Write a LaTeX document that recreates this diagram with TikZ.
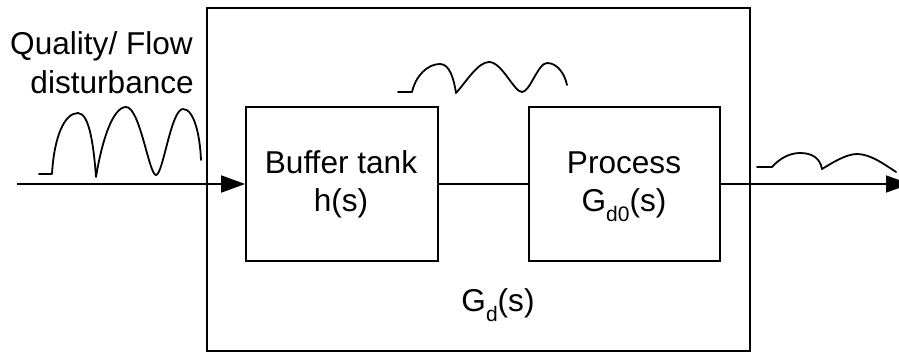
\documentclass[tikz,border=0pt]{standalone}
\usepackage{fontspec}
\setmainfont{Liberation Sans}
\usetikzlibrary{arrows.meta}
\begin{document}
\begin{tikzpicture}[x=1pt,y=-1pt,
  every node/.style={font=\fontsize{31.6}{38}\selectfont},
  blockbox/.style={draw, line width=1.8pt, inner sep=0pt},
  txt/.style={inner sep=0pt, anchor=base},
  conn/.style={line width=1.8pt},
  wave/.style={line width=1.8pt, line join=round, line cap=round},
  arr/.style={-{Triangle[length=24pt,width=17pt]}}]
\useasboundingbox (0,0) rectangle (899,353);
% outer box
\node[blockbox, minimum width=543pt, minimum height=343pt] (outer) at (478.5,179.5) {};
% inner boxes
\node[blockbox, minimum width=192pt, minimum height=154pt] (buffer) at (342,184) {};
\node[blockbox, minimum width=191pt, minimum height=154pt] (process) at (624.5,184) {};
% texts
\node[txt] (bt1) at (341,173) {Buffer tank};
\node[txt] (bt2) at (341,211) {h(s)};
\node[txt] (pr1) at (624,173) {Process};
\node[txt] (pr2) at (624,211) {G\raisebox{-10pt}{\fontsize{21}{21}\selectfont d0}(s)};
\node[txt] (gd) at (498,311) {G\raisebox{-10pt}{\fontsize{21}{21}\selectfont d}(s)};
\node[txt, anchor=base east] (q1) at (193,55) {Quality/ Flow};
\node[txt, anchor=base east] (q2) at (194,93) {disturbance};
% connectors
\coordinate (in) at (17,184);
\coordinate (out) at (910,184);
\draw[conn, arr] (in) -- (buffer.west);
\draw[conn] (buffer.east) -- (process.west);
\draw[conn, arr] (process.east) -- (out);
% waves
\draw[wave] (39,174) -- (52,174)
  .. controls (54,138) and (64,113) .. (78,113)
  .. controls (90,113) and (94,150) .. (96,177)
  .. controls (102,140) and (113,107) .. (126,107)
  .. controls (140,107) and (149,175) .. (156,175)
  .. controls (163,175) and (171,109) .. (183,109)
  .. controls (194,109) and (200,135) .. (201,160);
\draw[wave] (398,92) -- (412,92)
  .. controls (416,75) and (428,64) .. (440,64)
  .. controls (450,64) and (454,80) .. (456,93)
  .. controls (466,82) and (478,62) .. (489,62)
  .. controls (502,62) and (514,92) .. (522,92)
  .. controls (530,92) and (538,63) .. (547,63)
  .. controls (558,63) and (565,75) .. (567,85);
\draw[wave] (757,167) -- (772,167)
  .. controls (780,158) and (790,153) .. (800,153)
  .. controls (812,153) and (820,158) .. (822,169)
  .. controls (832,163) and (846,154) .. (857,154)
  .. controls (870,154) and (884,164) .. (896,172);
\end{tikzpicture}
\end{document}
